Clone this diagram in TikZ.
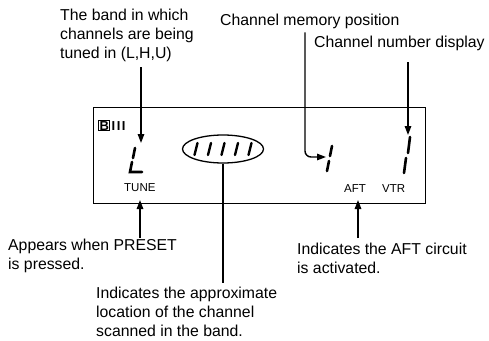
\documentclass[tikz,border=0pt]{standalone}
\usepackage{fontspec}
\setmainfont{Liberation Sans}
\usetikzlibrary{arrows.meta,shapes.geometric}
\begin{document}
\begin{tikzpicture}[x=1pt,y=-1pt,
  lbl/.style={font=\fontsize{15.8}{19}\selectfont, align=left, inner sep=0pt, anchor=base west},
  small/.style={font=\fontsize{11.5}{13}\selectfont, inner sep=0pt, anchor=base west},
  arr/.style={line width=1.4pt, -{Triangle[length=9pt,width=6.5pt]}},
  lead/.style={line width=1.4pt},
  seg/.style={line width=2.6pt, line cap=round},
  frame/.style={line width=0.9pt}]
\useasboundingbox (0,0) rectangle (489,340);

% texts (anchor = baseline of last line)
\node[lbl] (band) at (60,58) {The band in which\\channels are being\\tuned in (L,H,U)};
\node[lbl] (mem) at (220,25) {Channel memory position};
\node[lbl] (num) at (314,47) {Channel number display};
\node[lbl] (preset) at (8,269) {Appears when PRESET\\is pressed.};
\node[lbl] (aftt) at (297,273) {Indicates the AFT circuit\\is activated.};
\node[lbl] (loc) at (96,336) {Indicates the approximate\\location of the channel\\scanned in the band.};

% display frame
\draw[frame] (93,107) rectangle (425,203);
\node[small, font=\fontsize{13}{14}\selectfont\bfseries] (bandind) at (98,130) {{\fboxsep=0.4pt\fboxrule=0.9pt\fbox{B}}\kern1.5pt I\kern1.5pt I\kern1.5pt I};
\node[small] (tune) at (124,191) {TUNE};
\node[small] (aft) at (344,192) {AFT};
\node[small] (vtr) at (382,192) {VTR};

% band digit L
\draw[seg] (135,148) -- (133,158) (132,162) -- (130,172) -- (142,172);
% position indicator
\node[draw, line width=1.3pt, ellipse, minimum width=81pt, minimum height=28pt, inner sep=0pt] (pos) at (223,149) {};
\foreach \x in {196,209.5,223,236.5,250}
  \draw[seg, line width=2.4pt] (\x+1.5,143) -- (\x-1.5,155);
% memory digit
\draw[seg] (332,146) -- (330,156) (329,161) -- (327,171);
% channel number digit
\draw[seg] (410,137) -- (408,153) (406,158) -- (404,173);

% tip coordinates
\coordinate (tipL) at (141,143);
\coordinate (tipM) at (326,157);
\coordinate (tipN) at (408,135);
\coordinate (tipT) at (140,200);
\coordinate (tipA) at (358,200);

% connectors
\draw[arr] (band.south -| tipL) ++(0,6) -- (tipL);
\draw[arr, rounded corners=6pt] (mem.south -| 305,0) ++(0,4) -- (305,157) -- (tipM);
\draw[arr] (num.south -| tipN) ++(0,12) -- (tipN);
\draw[arr] (140,238) -- (tipT);
\draw[arr] (358,238) -- (tipA);
\draw[lead] (pos.south) -- (223,283);
\end{tikzpicture}
\end{document}
